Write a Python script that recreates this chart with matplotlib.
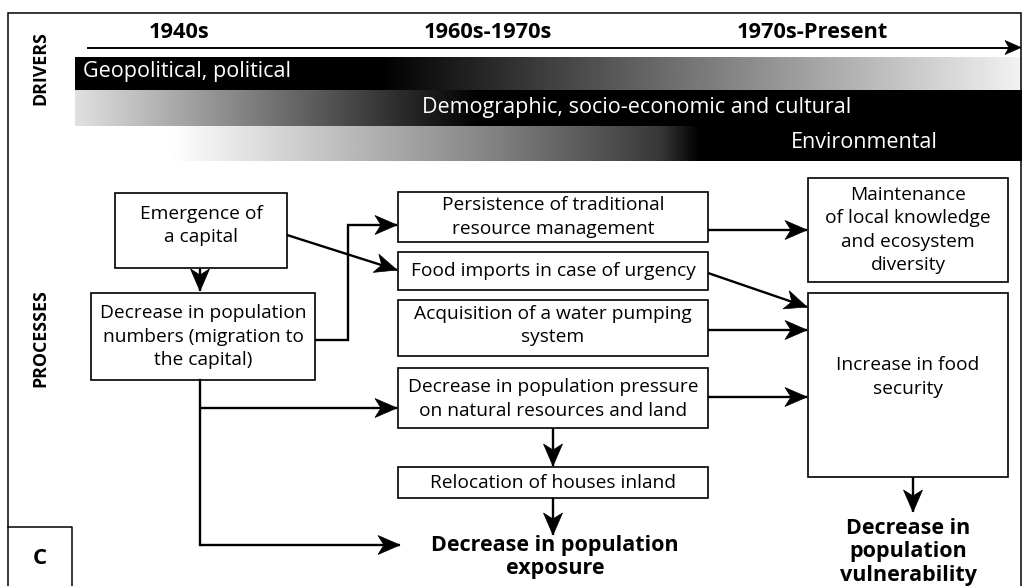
import numpy as np
import matplotlib
matplotlib.use("Agg")
import matplotlib.pyplot as plt
from matplotlib.patches import Rectangle, Polygon

plt.rcParams['font.family'] = ['Open Sans', 'DejaVu Sans']

# ---- content ----
periods = ["1940s", "1960s-1970s", "1970s-Present"]
drivers = ["Geopolitical, political",
           "Demographic, socio-economic and cultural",
           "Environmental"]
section_labels = ["DRIVERS", "PROCESSES"]
box_texts = [
    "Emergence of\na capital",
    "Decrease in population\nnumbers (migration to\nthe capital)",
    "Persistence of traditional\nresource management",
    "Food imports in case of urgency",
    "Acquisition of a water pumping\nsystem",
    "Decrease in population pressure\non natural resources and land",
    "Relocation of houses inland",
    "Maintenance\nof local knowledge\nand ecosystem\ndiversity",
    "Increase in food\nsecurity",
]
outcomes = ["Decrease in population\nexposure",
            "Decrease in\npopulation\nvulnerability"]
panel_letter = "C"

W, H = 1029, 586
fig = plt.figure(figsize=(W / 100, H / 100), dpi=100)
ax = fig.add_axes([0, 0, 1, 1])
ax.set_xlim(0, W)
ax.set_ylim(H, 0)
ax.axis('off')

# outer frame
ax.plot([8, 8, 1021, 1021], [586, 13, 13, 586], color='black', lw=1.1,
        solid_capstyle='butt', solid_joinstyle='miter')
# C box
ax.plot([8, 72, 72], [527, 527, 586], color='black', lw=1.1)
ax.text(40, 559, panel_letter, ha='center', va='center', fontsize=16,
        fontweight='bold')

ALW = 1.7


def head(x, y, dx, dy, L=22, Wd=19, notch=6):
    n = np.hypot(dx, dy)
    ux, uy = dx / n, dy / n
    px, py = -uy, ux
    bx, by = x - L * ux, y - L * uy
    pts = [(x, y), (bx + px * Wd / 2, by + py * Wd / 2),
           (x - (L - notch) * ux, y - (L - notch) * uy),
           (bx - px * Wd / 2, by - py * Wd / 2)]
    ax.add_patch(Polygon(pts, closed=True, facecolor='black',
                         edgecolor='black', lw=0.5, zorder=5))


def arrow(xs, ys):
    ax.plot(xs, ys, color='black', lw=ALW, solid_capstyle='butt',
            solid_joinstyle='miter', zorder=4)
    head(xs[-1], ys[-1], xs[-1] - xs[-2], ys[-1] - ys[-2])


# timeline arrow
ax.plot([88, 1008], [47.5, 47.5], color='black', lw=1.4, zorder=4)
head(1021, 47.5, 1, 0, L=16, Wd=14, notch=4)
for lab, cx in zip(periods, [179, 488, 812]):
    ax.text(cx, 32, lab, ha='center', va='center', fontsize=15.7,
            fontweight='bold')

# driver gradient bars
def grad_bar(y0, y1, xs, vals, x0=75, x1=1022):
    xx = np.linspace(x0, x1, 800)
    g = np.interp(xx, xs, vals)
    img = np.repeat(g[None, :], 2, axis=0)
    ax.imshow(img, cmap='gray', vmin=0, vmax=1, aspect='auto',
              extent=(x0, x1, y1, y0), interpolation='bilinear', zorder=1)

grad_bar(57, 90, [75, 380, 1022], [0.0, 0.0, 0.95])
grad_bar(90, 126, [75, 480, 1022], [0.88, 0.0, 0.0])
grad_bar(126, 161, [75, 170, 500, 660, 700, 1022],
         [1.0, 1.0, 0.5, 0.22, 0.0, 0.0])
ax.text(83, 72, drivers[0], ha='left', va='center', fontsize=15.5,
        color='white', zorder=3)
ax.text(637, 107, drivers[1], ha='center', va='center', fontsize=15.5,
        color='white', zorder=3)
ax.text(864, 143, drivers[2], ha='center', va='center', fontsize=15.5,
        color='white', zorder=3)

ax.text(40, 68.5, section_labels[0], rotation=90, ha='center', va='center',
        fontsize=12.8, fontweight='bold')
ax.text(40, 338.5, section_labels[1], rotation=90, ha='center', va='center',
        fontsize=12.8, fontweight='bold')

# boxes (x0, y0, x1, y1) in pixels
boxes = [
    (115, 193, 287, 268),
    (91, 293, 315, 380),
    (398, 192, 708, 242),
    (398, 252, 708, 290),
    (398, 300, 708, 356),
    (398, 368, 708, 428),
    (398, 467, 708, 498),
    (808, 178, 1008, 282),
    (808, 293, 1008, 477),
]
text_dy = [-5, 0, 0, 0, -2.5, 1, 0, 0, -8]
for (x0, y0, x1, y1), t, d in zip(boxes, box_texts, text_dy):
    ax.add_patch(Rectangle((x0, y0), x1 - x0, y1 - y0, fill=False,
                           edgecolor='black', lw=1.2, zorder=3))
    ax.text((x0 + x1) / 2, (y0 + y1) / 2 + d, t, ha='center', va='center',
            fontsize=13.8, linespacing=1.38, zorder=3)

# outcome texts
ax.text(555, 557, outcomes[0], ha='center', va='center', fontsize=15.5,
        fontweight='bold', linespacing=1.08)
ax.text(908, 552, outcomes[1], ha='center', va='center', fontsize=15.5,
        fontweight='bold', linespacing=1.15)

# arrows
arrow([200, 200], [268, 291])
arrow([287, 397], [235, 270])
arrow([315, 348, 348, 397], [340, 340, 225, 225])
ax.plot([200, 200], [380, 545], color='black', lw=ALW, zorder=4)
arrow([200, 397], [408, 408])
arrow([200, 400], [545, 545])
arrow([708, 807], [230, 230])
arrow([708, 807], [273, 307])
arrow([708, 807], [330, 330])
arrow([708, 807], [397, 397])
arrow([553, 553], [428, 466])
arrow([553, 553], [498, 535])
arrow([913, 913], [477, 512])

fig.savefig('out.png', dpi=100)
